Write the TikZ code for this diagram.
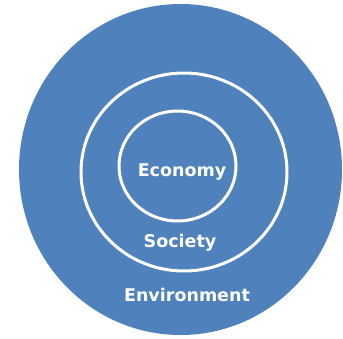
\documentclass[tikz,border=0pt]{standalone}
\usepackage{fontspec}
\setmainfont{DejaVu Sans}
\usetikzlibrary{shapes.geometric}
\definecolor{ringblue}{HTML}{4F81BD}
\begin{document}
\begin{tikzpicture}[x=1pt,y=-1pt,
  ring/.style={ellipse,draw=white,line width=3pt,inner sep=0pt},
  lbl/.style={text=white,font=\bfseries\fontsize{17.5}{19}\selectfont,inner sep=0pt}]
\useasboundingbox (0,0) rectangle (343,338);
\node[ellipse,fill=ringblue,minimum width=323pt,minimum height=331pt,inner sep=0pt] (env) at (180.5,169.5) {};
\node[ring,minimum width=206pt,minimum height=198pt] (soc) at (184,172) {};
\node[ring,minimum width=117pt,minimum height=110pt] (eco) at (177.5,166) {};
\node[lbl] (ecot) at (182,172) {Economy};
\node[lbl] (soct) at (180,243) {Society};
\node[lbl] (envt) at (187,295) {Environment};
\end{tikzpicture}
\end{document}
